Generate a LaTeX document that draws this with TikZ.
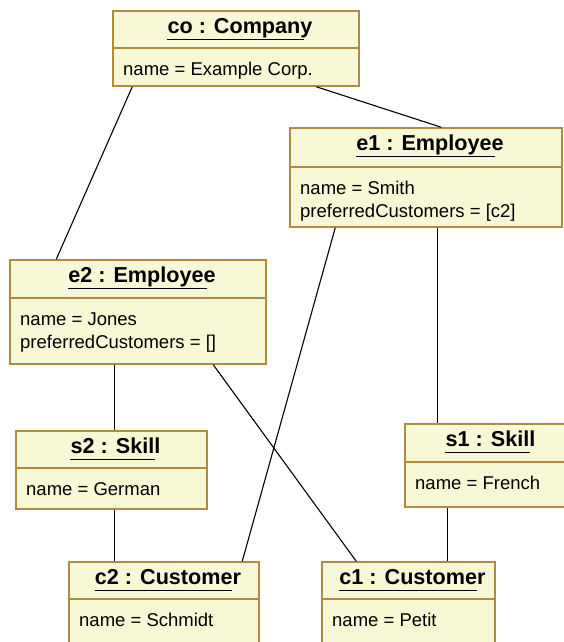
\documentclass[tikz,border=0pt]{standalone}
\usepackage{fontspec}
\setmainfont{Liberation Sans}
\usetikzlibrary{calc}
\definecolor{objfill}{RGB}{248,248,214}
\definecolor{objedge}{RGB}{176,140,64}
\tikzset{
  objbox/.style={draw=objedge, fill=objfill, line width=1.5pt, inner sep=0pt},
  objsep/.style={draw=objedge, line width=1.5pt},
  objtitle/.style={anchor=base, inner sep=0pt,
    font=\fontsize{21.6}{26}\selectfont\bfseries},
  attr/.style={anchor=base west, inner sep=0pt,
    font=\fontsize{18.5}{22}\selectfont},
  link/.style={line width=1.1pt, black}
}
% object box: name, left, top, right, bottom, separator, title, attributes
\newcommand{\umlobject}[8]{
  \node[objbox, minimum width={(#4-#2)*1pt}, minimum height={(#5-#3)*1pt}]
    (#1) at ({(#2+#4)/2},{(#3+#5)/2}) {};
  \draw[objsep] (#2,#6) -- (#4,#6);
  \node[objtitle] (#1-title) at ({(#2+#4)/2+4},{#3+22.5}) {#7};
  \draw[line width=1.5pt] ([yshift=-6pt]#1-title.base west)
    -- ($([yshift=-6pt]#1-title.base west)!0.94!([yshift=-6pt]#1-title.base east)$);
  \foreach \a [count=\i] in {#8}
    \node[attr] (#1-a\i) at ({#2+10},{#6+27+23.5*(\i-1)}) {\a};
}

\begin{document}
\begin{tikzpicture}[x=1pt, y=-1pt]
  \clip (0,0) rectangle (564,642);

  \umlobject{co}{113}{11}{359}{86}{48}{co : Company}{name = Example Corp.}
  \umlobject{e1}{290}{128}{562}{227}{167}{e1 : Employee}
    {name = Smith, preferredCustomers = [c2]}
  \umlobject{e2}{10}{260}{266}{364}{298}{e2 : Employee}
    {name = Jones, preferredCustomers = []}
  \umlobject{s2}{16}{431}{207}{509}{468}{s2 : Skill}{name = German}
  \umlobject{s1}{405}{424}{568}{507}{462}{s1 : Skill}{name = French}
  \umlobject{c2}{69}{562}{259}{660}{599}{c2 : Customer}{name = Schmidt}
  \umlobject{c1}{322}{562}{495}{660}{599}{c1 : Customer}{name = Petit}

  % links
  \draw[link] ($(co.south west)+(20,0)$) -- ($(e2.north west)+(47,0)$);
  \draw[link] ($(co.south west)+(204,0)$) -- ($(e1.north west)+(152,0)$);
  \draw[link] ($(e1.south west)+(46,0)$) -- ($(c2.north west)+(174,0)$);
  \draw[link] ($(e1.south west)+(148,0)$) -- ($(s1.north west)+(33,0)$);
  \draw[link] ($(e2.south west)+(105,0)$) -- ($(s2.north west)+(99,0)$);
  \draw[link] ($(e2.south west)+(204,0)$) -- ($(c1.north west)+(35,0)$);
  \draw[link] ($(s2.south west)+(99,0)$) -- ($(c2.north west)+(46,0)$);
  \draw[link] ($(s1.south west)+(43,0)$) -- ($(c1.north west)+(126,0)$);
\end{tikzpicture}
\end{document}
